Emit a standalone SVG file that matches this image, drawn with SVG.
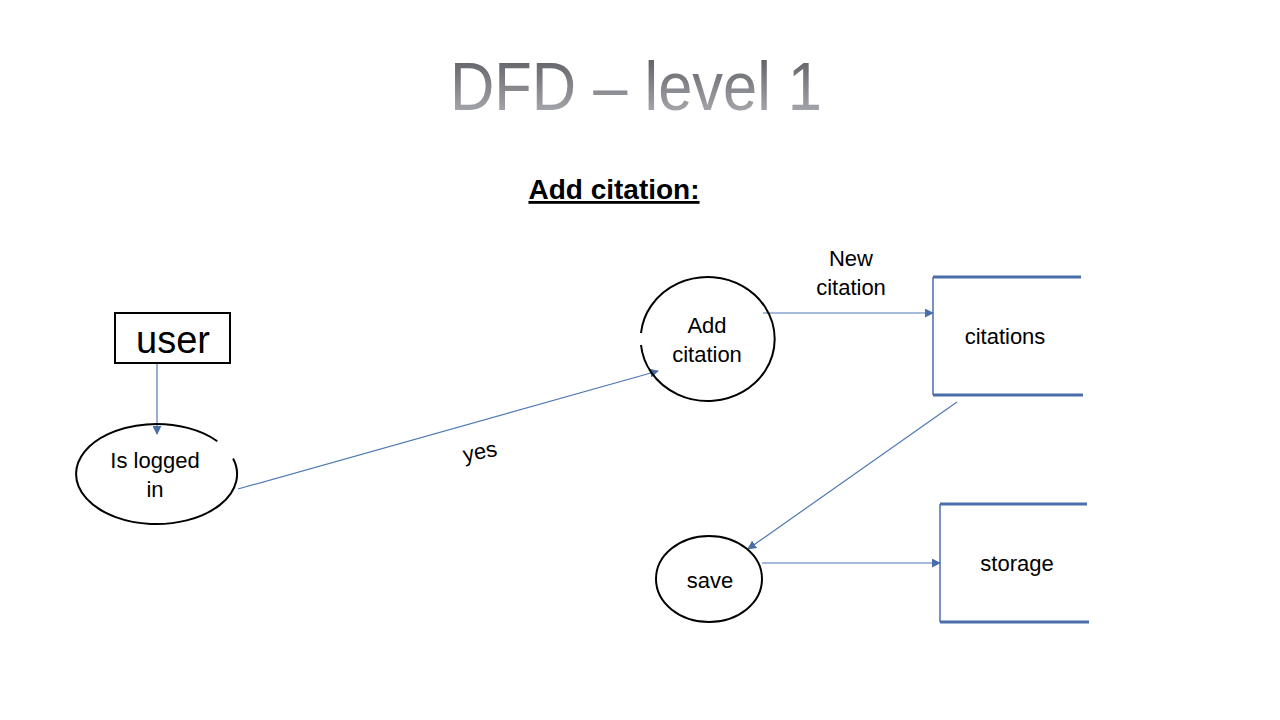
<svg xmlns="http://www.w3.org/2000/svg" width="1280" height="720" viewBox="0 0 1280 720">
<defs>
<linearGradient id="tg" x1="0" y1="0" x2="0" y2="1">
<stop offset="0" stop-color="#55565c"/>
<stop offset="1" stop-color="#b4b5ba"/>
</linearGradient>
<marker id="ah" viewBox="0 0 10 10" refX="9" refY="5" markerWidth="9" markerHeight="9" markerUnits="userSpaceOnUse" orient="auto">
<path d="M0,0 L10,5 L0,10 z" fill="#4a6fa8"/>
</marker>
</defs>
<style>
.t{font-family:"Liberation Sans",Arial,sans-serif;fill:#000;text-anchor:middle}
.n{fill:none;stroke:#000;stroke-width:2}
.flow{fill:none;stroke:#4f79b3;stroke-width:1.2;marker-end:url(#ah)}
.ds{fill:none;stroke:#4a6fa8;stroke-width:3}
.dsl{fill:none;stroke:#4a6fa8;stroke-width:1.5}
</style>
<rect width="1280" height="720" fill="#fff"/>
<text x="636" y="110" class="t" font-size="68" style="fill:url(#tg)" textLength="372" lengthAdjust="spacingAndGlyphs">DFD – level 1</text>
<text x="614" y="199" class="t" font-size="28" font-weight="bold" text-decoration="underline">Add citation:</text>

<g id="connectors">
<line class="flow" x1="157" y1="364" x2="157" y2="434"/>
<line class="flow" x1="238" y1="489" x2="658" y2="371"/>
<line class="flow" x1="763" y1="313" x2="933" y2="313"/>
<line class="flow" x1="957" y1="402" x2="748" y2="549"/>
<line class="flow" x1="762" y1="563" x2="940" y2="563"/>
<text x="480" y="459" class="t" font-size="22" transform="rotate(-11 480 452)">yes</text>
<text x="851" y="266" class="t" font-size="22">New</text>
<text x="851" y="295" class="t" font-size="22">citation</text>
</g>

<g id="user">
<rect x="115" y="313" width="115" height="50" class="n" stroke-width="2.5"/>
<text x="173" y="353" class="t" font-size="38">user</text>
</g>

<g id="is-logged-in">
<path class="n" d="M217.3,441.2 A80.5,50 0 1 0 233.1,458.5"/>
<text x="155" y="468" class="t" font-size="22">Is logged</text>
<text x="155" y="497" class="t" font-size="22">in</text>
</g>

<g id="add-citation">
<path class="n" d="M641,345 A67,62 0 1 0 641,333"/>
<text x="707" y="333" class="t" font-size="22">Add</text>
<text x="707" y="362" class="t" font-size="22">citation</text>
</g>

<g id="citations">
<line class="ds" x1="933" y1="277" x2="1081" y2="277"/>
<line class="ds" x1="933" y1="395" x2="1083" y2="395"/>
<line class="dsl" x1="933" y1="277" x2="933" y2="395"/>
<text x="1005" y="344" class="t" font-size="22">citations</text>
</g>

<g id="save">
<ellipse cx="709" cy="579" rx="53" ry="43" class="n"/>
<text x="710" y="588" class="t" font-size="22">save</text>
</g>

<g id="storage">
<line class="ds" x1="940" y1="504" x2="1087" y2="504"/>
<line class="ds" x1="940" y1="622" x2="1089" y2="622"/>
<line class="dsl" x1="940" y1="504" x2="940" y2="622"/>
<text x="1017" y="571" class="t" font-size="22">storage</text>
</g>
</svg>
